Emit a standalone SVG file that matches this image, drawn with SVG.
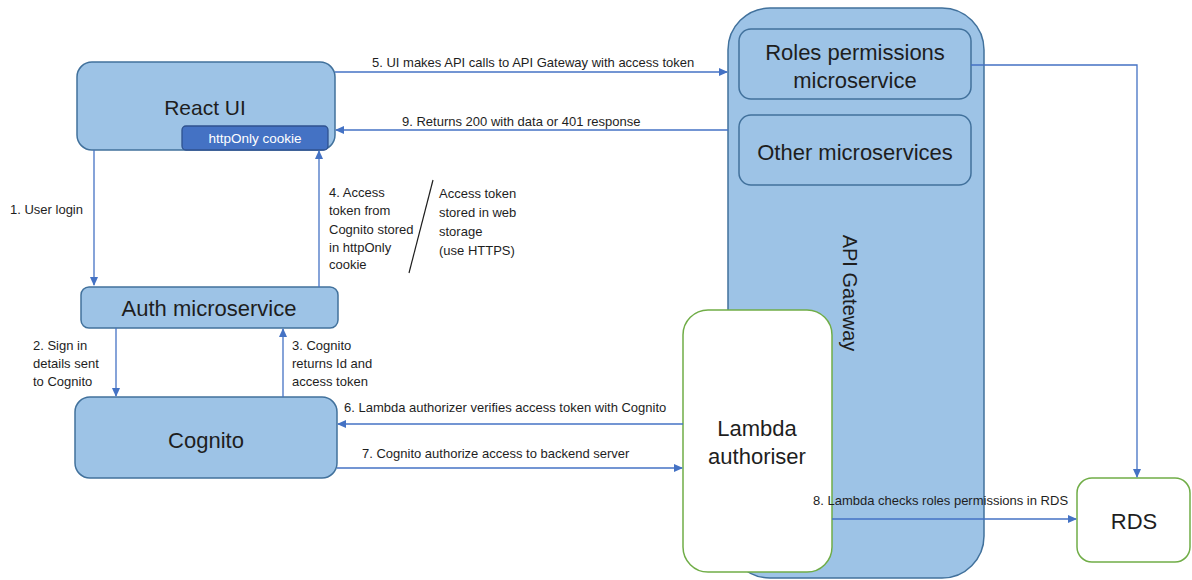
<svg xmlns="http://www.w3.org/2000/svg" width="1192" height="580" viewBox="0 0 1192 580">
<defs>
<marker id="ah" markerWidth="9" markerHeight="8" refX="8" refY="4" orient="auto" markerUnits="userSpaceOnUse">
<path d="M0,0 L9,4 L0,8 Z" fill="#4472C4"/>
</marker>
<style>
.blue{fill:#9DC3E6;stroke:#41719C;stroke-width:1.5}
.green{fill:#FFFFFF;stroke:#70AD47;stroke-width:1.5}
.node{font-family:"Liberation Sans",Arial,sans-serif;font-size:22px;fill:#1e1e1e;text-anchor:middle;dominant-baseline:central}
.lbl{font-family:"Liberation Sans",Arial,sans-serif;font-size:13px;fill:#1e1e1e}
.conn{stroke:#4472C4;stroke-width:1.3;fill:none}
</style>
</defs>
<rect width="1192" height="580" fill="#FFFFFF"/>

<g id="api-gateway">
<rect class="blue" x="728" y="8" width="256" height="570" rx="42"/>
<text class="node" x="850" y="293" style="font-size:20px" transform="rotate(90 850 293)">API Gateway</text>
</g>
<g id="roles-permissions">
<rect class="blue" x="739" y="29" width="232" height="70" rx="12"/>
<text class="node" x="855" y="52">Roles permissions</text>
<text class="node" x="855" y="80">microservice</text>
</g>
<g id="other-microservices">
<rect class="blue" x="739" y="115" width="232" height="70" rx="12"/>
<text class="node" x="855" y="152">Other microservices</text>
</g>

<g id="react-ui">
<rect class="blue" x="77" y="62" width="258" height="88" rx="15"/>
<text class="node" x="205" y="107" style="font-size:21px">React UI</text>
</g>
<g id="httponly-cookie">
<rect x="182" y="126" width="146" height="24" rx="4" fill="#4472C4" stroke="#2F528F" stroke-width="1.3"/>
<text class="node" x="255" y="138" style="fill:#FFFFFF;font-size:13.5px">httpOnly cookie</text>
</g>
<g id="auth-microservice">
<rect class="blue" x="81" y="287" width="257" height="41" rx="8"/>
<text class="node" x="209" y="308">Auth microservice</text>
</g>
<g id="cognito">
<rect class="blue" x="75" y="397" width="262" height="81" rx="15"/>
<text class="node" x="206" y="440">Cognito</text>
</g>
<g id="lambda-authoriser">
<rect class="green" x="683" y="310" width="149" height="262" rx="25"/>
<text class="node" x="757" y="428">Lambda</text>
<text class="node" x="757" y="456">authoriser</text>
</g>
<g id="rds">
<rect class="green" x="1077" y="478" width="113" height="84" rx="15"/>
<text class="node" x="1134" y="521">RDS</text>
</g>

<g id="connectors">
<line class="conn" x1="94" y1="150" x2="94" y2="285" marker-end="url(#ah)"/>
<line class="conn" x1="116" y1="328" x2="116" y2="396" marker-end="url(#ah)"/>
<line class="conn" x1="283" y1="397" x2="283" y2="329" marker-end="url(#ah)"/>
<line class="conn" x1="319" y1="287" x2="319" y2="151" marker-end="url(#ah)"/>
<line class="conn" x1="335" y1="72" x2="727" y2="72" marker-end="url(#ah)"/>
<line class="conn" x1="728" y1="130" x2="336" y2="130" marker-end="url(#ah)"/>
<line class="conn" x1="683" y1="424" x2="338" y2="424" marker-end="url(#ah)"/>
<line class="conn" x1="337" y1="468" x2="682" y2="468" marker-end="url(#ah)"/>
<line class="conn" x1="832" y1="519" x2="1076" y2="519" marker-end="url(#ah)"/>
<polyline class="conn" points="971,65 1137,65 1137,477" marker-end="url(#ah)"/>
<line x1="433" y1="180" x2="409" y2="273" stroke="#1e1e1e" stroke-width="1.2"/>
</g>

<g id="labels">
<text class="lbl" x="372" y="67">5. UI makes API calls to API Gateway with access token</text>
<text class="lbl" x="402" y="126">9. Returns 200 with data or 401 response</text>
<text class="lbl" x="10" y="214">1. User login</text>
<text class="lbl" x="329" y="197">4. Access</text>
<text class="lbl" x="329" y="215">token from</text>
<text class="lbl" x="329" y="234">Cognito stored</text>
<text class="lbl" x="329" y="252">in httpOnly</text>
<text class="lbl" x="329" y="269">cookie</text>
<text class="lbl" x="439" y="198">Access token</text>
<text class="lbl" x="439" y="217">stored in web</text>
<text class="lbl" x="439" y="236">storage</text>
<text class="lbl" x="439" y="255">(use HTTPS)</text>
<text class="lbl" x="33" y="350">2. Sign in</text>
<text class="lbl" x="33" y="368">details sent</text>
<text class="lbl" x="33" y="386">to Cognito</text>
<text class="lbl" x="292" y="350">3. Cognito</text>
<text class="lbl" x="292" y="368">returns Id and</text>
<text class="lbl" x="292" y="386">access token</text>
<text class="lbl" x="344" y="412">6. Lambda authorizer verifies access token with Cognito</text>
<text class="lbl" x="362" y="458">7. Cognito authorize access to backend server</text>
<text class="lbl" x="813" y="505">8. Lambda checks roles permissions in RDS</text>
</g>
</svg>
